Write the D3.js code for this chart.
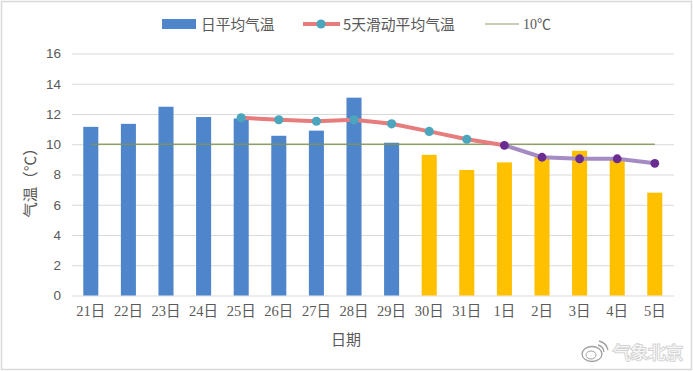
<!DOCTYPE html>
<html>
<head>
<meta charset="utf-8">
<script src="https://cdn.jsdelivr.net/npm/d3@7"></script>
<style>
html, body { margin:0; padding:0; background:#fff; }
svg { display:block; }
text { font-family:"Noto Sans CJK SC","Noto Sans",sans-serif; fill:#595959; }
.tick text { fill:#595959; }
.xaxis text { font-family:"Liberation Serif","Noto Sans CJK SC",serif; font-size:14.5px; }
.yaxis text { font-family:"Liberation Sans",sans-serif; font-size:13.5px; }
</style>
</head>
<body>
<div id="chart"></div>
<script>
let days = ['21日','22日','23日','24日','25日','26日','27日','28日','29日','30日','31日','1日','2日','3日','4日','5日'];
let dailyTemp = [11.15,11.35,12.48,11.8,11.7,10.56,10.9,13.08,10.1,9.3,8.3,8.8,9.15,9.57,9.0,6.8];
let movingAvg = [null,null,null,null,11.75,11.62,11.52,11.62,11.35,10.85,10.33,9.93,9.14,9.04,9.04,8.74];
let threshold = [10,10,10,10,10,10,10,10,10,10,10,10,10,10,10,10];
let yTicks = [0,2,4,6,8,10,12,14,16];
let firstForecastBar = 9;   // 30日 on is yellow
let firstForecastLine = 11; // 1日 on is purple

let width = 693, height = 371;
let margin = {top:53.5, left:72, right:19, bottom:75.5};
let w = width - margin.left - margin.right, h = height - margin.top - margin.bottom;

let root = d3.select('#chart').append('svg').attr('width',width).attr('height',height);
root.append('rect').attr('x',1.5).attr('y',1.5).attr('width',690).attr('height',368)
    .attr('fill','#fff').attr('stroke','#d9d9d9').attr('stroke-width',1.5);

let svg = root.append('g').attr('transform','translate('+margin.left+','+margin.top+')');

let x = d3.scaleBand().domain(days).range([0,w-0.4]).paddingInner(0.6).paddingOuter(0.3);
let y = d3.scaleLinear().domain([0,16]).range([h,0]);
let cx = function(i){ return x(days[i]) + x.bandwidth()/2; };

// gridlines + y labels
let yAxis = d3.axisLeft(y).tickValues(yTicks).tickSize(-w).tickPadding(11);
let gy = svg.append('g').attr('class','yaxis').call(yAxis);
gy.select('.domain').remove();
gy.selectAll('.tick line').attr('stroke','#d9d9d9');

// bars
svg.selectAll('.bar').data(dailyTemp).enter().append('rect')
    .attr('class','bar')
    .attr('x',function(d,i){ return x(days[i]); })
    .attr('y',function(d){ return y(d); })
    .attr('width',x.bandwidth())
    .attr('height',function(d){ return h - y(d); })
    .attr('fill',function(d,i){ return i < firstForecastBar ? '#4f86cb' : '#ffc000'; });

let xAxis = d3.axisBottom(x).tickSize(0).tickPadding(10);
let gx = svg.append('g').attr('class','xaxis').attr('transform','translate(0,'+h+')').call(xAxis);
gx.select('.domain').remove();
gx.selectAll('.tick text').attr('dy','0.71em');

// 10 degree line
let line = d3.line().defined(function(d){ return d !== null; })
    .x(function(d,i){ return cx(i); }).y(function(d){ return y(d); });
svg.append('path').attr('d',line(threshold)).attr('fill','none')
    .attr('stroke','#7f9356').attr('stroke-width',1.6).attr('opacity',0.85);

// moving average, observed part then forecast part
let observed = movingAvg.map(function(d,i){ return i <= firstForecastLine ? d : null; });
let forecast = movingAvg.map(function(d,i){ return i >= firstForecastLine ? d : null; });
svg.append('path').attr('d',line(observed)).attr('fill','none').attr('stroke','#e67c7b').attr('stroke-width',4);
svg.append('path').attr('d',line(forecast)).attr('fill','none').attr('stroke','#a58bc4').attr('stroke-width',4);

movingAvg.forEach(function(d,i){
    if(d === null) return;
    svg.append('circle').attr('cx',cx(i)).attr('cy',y(d)).attr('r',i < firstForecastLine ? 4.6 : 4.4)
        .attr('fill',i < firstForecastLine ? '#4ba6bd' : '#6a2c91');
});

// axis titles
root.append('text').attr('x',346).attr('y',345).attr('text-anchor','middle').attr('font-size',15).text('日期');
root.append('text').attr('transform','translate(36,179) rotate(-90)').attr('text-anchor','middle')
    .attr('font-size',15.5).style('text-rendering','geometricPrecision').text('气温（℃）');

// legend
root.append('rect').attr('x',162).attr('y',19).attr('width',34).attr('height',10).attr('fill','#4f86cb');
root.append('text').attr('x',201).attr('y',29.5).attr('font-size',14.7).text('日平均气温');
root.append('line').attr('x1',303).attr('x2',340).attr('y1',24).attr('y2',24).attr('stroke','#e67c7b').attr('stroke-width',4);
root.append('circle').attr('cx',321).attr('cy',24).attr('r',4.6).attr('fill','#4ba6bd');
root.append('text').attr('x',343).attr('y',29.5).attr('font-size',14.8).text('5天滑动平均气温');
root.append('line').attr('x1',485).attr('x2',519).attr('y1',24).attr('y2',24).attr('stroke','#8f9a6c').attr('stroke-width',1.2);
root.append('text').attr('x',523).attr('y',29).attr('font-size',14).style('font-family','"Liberation Serif","Noto Sans CJK SC",serif').text('10℃');

// watermark
let mark = root.append('g').attr('fill','none').attr('stroke','#a0a0a0');
mark.append('ellipse').attr('cx',592).attr('cy',354).attr('rx',10).attr('ry',7.5).attr('stroke-width',1.3);
mark.append('ellipse').attr('cx',591).attr('cy',355).attr('rx',5).attr('ry',4).attr('stroke-width',1);
mark.append('path').attr('d','M598 345 A8 8 0 0 1 604 352').attr('stroke-width',1.3);
mark.append('path').attr('d','M599 341 A12 12 0 0 1 608 350').attr('stroke-width',1.3);
root.append('text').attr('x',613).attr('y',359).attr('font-size',17.5).attr('stroke','#d4d4d4').attr('stroke-width',2)
    .style('fill','#f7f7f7').attr('paint-order','stroke').text('气象北京');
</script>
</body>
</html>
